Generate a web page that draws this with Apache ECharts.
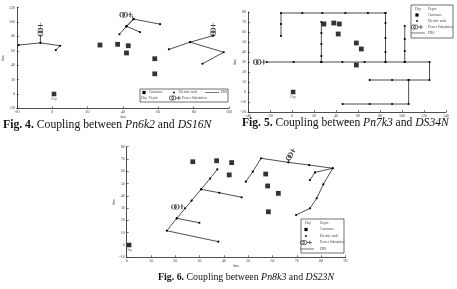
<!DOCTYPE html>
<html>
<head>
<meta charset="utf-8">
<script src="https://cdn.jsdelivr.net/npm/echarts@6/dist/echarts.min.js"></script>
<style>
  html, body { margin: 0; padding: 0; background: #fff; }
  #chart { width: 457px; height: 289px; }
</style>
</head>
<body>
<div id="chart"></div>
<script>
// ---- Fig. 4 (Pn6k2 / DS16N)
var fig4Paths = [
  [[-19, 68], [-6.7, 71], [4.5, 67], [2, 61]],
  [[42, 94], [46, 104], [61, 97]],
  [[46, 104], [42, 94], [38, 83]],
  [[42, 94], [49.6, 86]],
  [[66, 62], [78, 72], [91, 81]],
  [[78, 72], [97, 58], [85, 42]]
];
var fig4Stubs = [
  [[-6.7, 71], [-6.7, 82]],
  [[45, 109], [46, 104]],
  [[91, 81], [91, 83]]
];
var fig4Customers = [[27, 68], [37, 69], [43, 67], [42, 57], [58, 49], [58, 28]];
var fig4Depot = [[1, 0]];
var fig4Subs = [[-6.7, 90], [42, 110], [91, 90]];
var fig4SubRot = [90, 0, 90];

// ---- Fig. 5 (Pn7k3 / DS34N)
var fig5Paths = [
  [[-10, 56], [-10, 68], [-10, 79], [9.4, 79], [27.5, 79], [48.5, 79], [69, 79], [85, 79]],
  [[26.7, 70], [26.7, 59], [26.7, 48], [26.7, 36], [26.7, 30]],
  [[85, 79], [85, 69], [85, 54], [85, 40], [85, 30]],
  [[-23, 30], [1.5, 30], [26.7, 30], [45.8, 30], [66, 30], [85, 30], [102.5, 30], [125, 30],
   [125, 12], [106, 12], [91, 12], [70.6, 12]],
  [[102.5, 66], [102.5, 53], [102.5, 41], [102.5, 30]],
  [[106, 12], [106, -12], [91, -12], [70.6, -12], [46, -12]]
];
var fig5Stubs = [];
var fig5Customers = [[29, 68], [38, 69], [43, 68], [42, 58], [58.5, 49], [63, 43], [58.5, 27]];
var fig5Depot = [[1, 0]];
var fig5Subs = [[-29, 30]];
var fig5SubRot = [0];

// ---- Fig. 6 (Pn8k3 / DS23N)
var fig6Paths = [
  [[37.3, 61.5], [34.3, 54], [30.6, 45.3], [26.7, 36], [24, 29.8], [20.6, 21.7], [16.5, 11.6], [37.7, 2.7]],
  [[30.6, 45.3], [38.1, 42.5], [47.3, 38.8]],
  [[20.6, 21.7], [29.9, 18.1]],
  [[49, 51.5], [51.9, 59.6], [55.3, 70.5], [66.5, 67.2], [75.1, 65], [84.8, 62.4],
   [80.9, 49.3], [78.2, 38], [75.4, 29.8], [69.7, 24.4]],
  [[84.8, 62.4], [77.5, 59], [75.4, 52.8]]
];
var fig6Stubs = [[[66.5, 67.2], [66.8, 69.5]]];
var fig6Customers = [[27.2, 67.7], [37, 68.5], [43.2, 67], [42.2, 57], [57.2, 57.7], [58, 48], [62.4, 42], [58.3, 27]];
var fig6Depot = [[1, 0]];
var fig6Subs = [[21.2, 31], [67.6, 74]];
var fig6SubRot = [0, 60];

var captions = [
  ['Fig. 4.', ' Coupling between ', 'Pn6k2', ' and ', 'DS16N'],
  ['Fig. 5.', ' Coupling between ', 'Pn7k3', ' and ', 'DS34N'],
  ['Fig. 6.', ' Coupling between ', 'Pn8k3', ' and ', 'DS23N']
];
var legendLabels = ['Depot', 'Customer', 'Electric node', 'Power Substation', 'PBS'];

var SUB_PATH = 'path://M1,5 A4,4 0 1,1 9,5 A4,4 0 1,1 1,5 Z M6,5 A4,4 0 1,1 14,5 A4,4 0 1,1 6,5 Z M14,5 L24,5 M19,1 L19,9';
var FONT = '"Liberation Serif", "DejaVu Serif", serif';

var chart = echarts.init(document.getElementById('chart'), null, { renderer: 'canvas' });

function axisPair(idx, xr, yr, xGap, yGap) {
  var common = {
    gridIndex: idx,
    type: 'value',
    name: 'km',
    nameLocation: 'middle',
    nameTextStyle: { fontSize: 4, color: '#333', fontFamily: FONT },
    axisLine: { show: true, onZero: false, lineStyle: { color: '#222', width: 0.8 } },
    axisTick: { show: true, inside: true, length: 2, lineStyle: { color: '#222', width: 0.6 } },
    axisLabel: { fontSize: 4, color: '#444', margin: 2, fontFamily: FONT },
    splitLine: { show: false }
  };
  return {
    x: Object.assign({}, common, { min: xr[0], max: xr[1], interval: xr[2], nameGap: xGap }),
    y: Object.assign({}, common, { min: yr[0], max: yr[1], interval: yr[2], nameGap: yGap })
  };
}

function figSeries(idx, paths, stubs, customers, depot, subs, rots) {
  var out = [];
  paths.forEach(function (p) {
    out.push({
      type: 'line', xAxisIndex: idx, yAxisIndex: idx, data: p,
      symbol: 'circle', symbolSize: 2.2, showSymbol: true,
      itemStyle: { color: '#000' }, lineStyle: { color: '#222', width: 0.8 },
      silent: true, animation: false, z: 2
    });
  });
  stubs.forEach(function (p) {
    out.push({
      type: 'line', xAxisIndex: idx, yAxisIndex: idx, data: p, symbol: 'none',
      lineStyle: { color: '#222', width: 0.8 }, silent: true, animation: false, z: 2
    });
  });
  out.push({
    type: 'scatter', xAxisIndex: idx, yAxisIndex: idx, data: customers,
    symbol: 'rect', symbolSize: 4.8, itemStyle: { color: '#000' }, animation: false, z: 3
  });
  out.push({
    type: 'scatter', xAxisIndex: idx, yAxisIndex: idx, data: depot,
    symbol: 'rect', symbolSize: 4.6, itemStyle: { color: '#000' }, animation: false, z: 3,
    label: { show: true, position: 'bottom', distance: 1, formatter: 'Dep', fontSize: 3.5, color: '#333', fontFamily: FONT }
  });
  out.push({
    type: 'scatter', xAxisIndex: idx, yAxisIndex: idx,
    data: subs.map(function (s, i) { return { value: s, symbolRotate: rots[i] }; }),
    symbol: SUB_PATH, symbolSize: [13, 5],
    itemStyle: { color: 'rgba(0,0,0,0)', borderColor: '#111', borderWidth: 0.7 },
    animation: false, z: 4
  });
  return out;
}

// small substation icon built from circles and lines (legend only)
function subIcon(cx, cy) {
  var st = { fill: 'none', stroke: '#111', lineWidth: 0.6 };
  return [
    { type: 'circle', shape: { cx: cx - 3.6, cy: cy, r: 2.1 }, style: st, z: 11 },
    { type: 'circle', shape: { cx: cx - 1.2, cy: cy, r: 2.1 }, style: st, z: 11 },
    { type: 'line', shape: { x1: cx + 0.9, y1: cy, x2: cx + 6, y2: cy }, style: { stroke: '#111', lineWidth: 0.6 }, z: 11 },
    { type: 'line', shape: { x1: cx + 3.8, y1: cy - 2, x2: cx + 3.8, y2: cy + 2 }, style: { stroke: '#111', lineWidth: 0.6 }, z: 11 }
  ];
}

function legendGraphic(x, y, w, h, rows) {
  // rows: {y, sx, tx} for Depot, Customer, Node, Substation, PBS
  var g = [{ type: 'rect', shape: { x: x, y: y, width: w, height: h },
             style: { fill: '#fff', stroke: '#333', lineWidth: 0.7 }, z: 10 }];
  var txt = function (tx, ty, s, italic) {
    return { type: 'text', x: tx, y: ty, z: 11,
             style: { text: s, fontSize: 3.5, fill: '#444', fontFamily: FONT,
                      fontStyle: italic ? 'italic' : 'normal', verticalAlign: 'middle' } };
  };
  rows.forEach(function (r, i) {
    if (i === 0) g.push(txt(r.sx - 2, r.y, 'Dep', true));
    if (i === 1) g.push({ type: 'rect', shape: { x: r.sx - 1.6, y: r.y - 1.6, width: 3.2, height: 3.2 }, style: { fill: '#000' }, z: 11 });
    if (i === 2) g.push({ type: 'circle', shape: { cx: r.sx, cy: r.y, r: 0.9 }, style: { fill: '#000' }, z: 11 });
    if (i === 3) g = g.concat(subIcon(r.sx, r.y));
    if (i === 4) g.push({ type: 'line', shape: { x1: r.sx - 6, y1: r.y, x2: r.sx + 8, y2: r.y }, style: { stroke: '#555', lineWidth: 0.8 }, z: 11 });
    g.push(txt(r.tx, r.y, legendLabels[i], false));
  });
  return g;
}

function captionGraphic(x, y, parts, size) {
  return {
    type: 'text', x: x, y: y, z: 12,
    style: {
      text: '{b|' + parts[0] + '}{r|' + parts[1] + '}{i|' + parts[2] + '}{r|' + parts[3] + '}{i|' + parts[4] + '}',
      verticalAlign: 'middle',
      rich: {
        b: { fontSize: size, fontWeight: 'bold', fontFamily: FONT, fill: '#111' },
        r: { fontSize: size, fontFamily: FONT, fill: '#111' },
        i: { fontSize: size, fontStyle: 'italic', fontFamily: FONT, fill: '#111' }
      }
    }
  };
}

var a4 = axisPair(0, [-20, 100, 20], [-20, 120, 20], 6, 7);
var a5 = axisPair(1, [-40, 140, 20], [-20, 80, 10], 5, 5);
var a6 = axisPair(2, [0, 90, 10], [-10, 80, 10], 6, 7);

var graphic = []
  .concat(legendGraphic(140, 89, 88, 13, [
    { y: 98, sx: 143, tx: 149 }, { y: 92.5, sx: 144, tx: 149 }, { y: 92.5, sx: 174, tx: 179 },
    { y: 98, sx: 175, tx: 182 }, { y: 92.5, sx: 211, tx: 221 }
  ]))
  .concat(legendGraphic(411, 5, 42, 33, [
    { y: 9.5, sx: 417, tx: 428 }, { y: 15, sx: 417, tx: 428 }, { y: 21, sx: 417, tx: 428 },
    { y: 27, sx: 417, tx: 428 }, { y: 33, sx: 417, tx: 428 }
  ]))
  .concat(legendGraphic(301, 219, 43, 34, [
    { y: 223, sx: 307, tx: 320 }, { y: 229.5, sx: 306, tx: 320 }, { y: 236, sx: 306, tx: 320 },
    { y: 242.5, sx: 306, tx: 320 }, { y: 249, sx: 306, tx: 320 }
  ]));
graphic.push(captionGraphic(3, 125, captions[0], 11.7));
graphic.push(captionGraphic(242, 123, captions[1], 11.6));
graphic.push(captionGraphic(158, 277, captions[2], 9.9));

var option = {
  backgroundColor: '#fff',
  animation: false,
  grid: [
    { left: 13, top: 7.6, width: 216, height: 100.8 },
    { left: 248, top: 12, width: 198, height: 100 },
    { left: 126.7, top: 146.6, width: 218.7, height: 110.7 }
  ],
  xAxis: [a4.x, a5.x, a6.x],
  yAxis: [a4.y, a5.y, a6.y],
  series: []
    .concat(figSeries(0, fig4Paths, fig4Stubs, fig4Customers, fig4Depot, fig4Subs, fig4SubRot))
    .concat(figSeries(1, fig5Paths, fig5Stubs, fig5Customers, fig5Depot, fig5Subs, fig5SubRot))
    .concat(figSeries(2, fig6Paths, fig6Stubs, fig6Customers, fig6Depot, fig6Subs, fig6SubRot)),
  graphic: graphic
};

chart.setOption(option);
</script>
</body>
</html>
